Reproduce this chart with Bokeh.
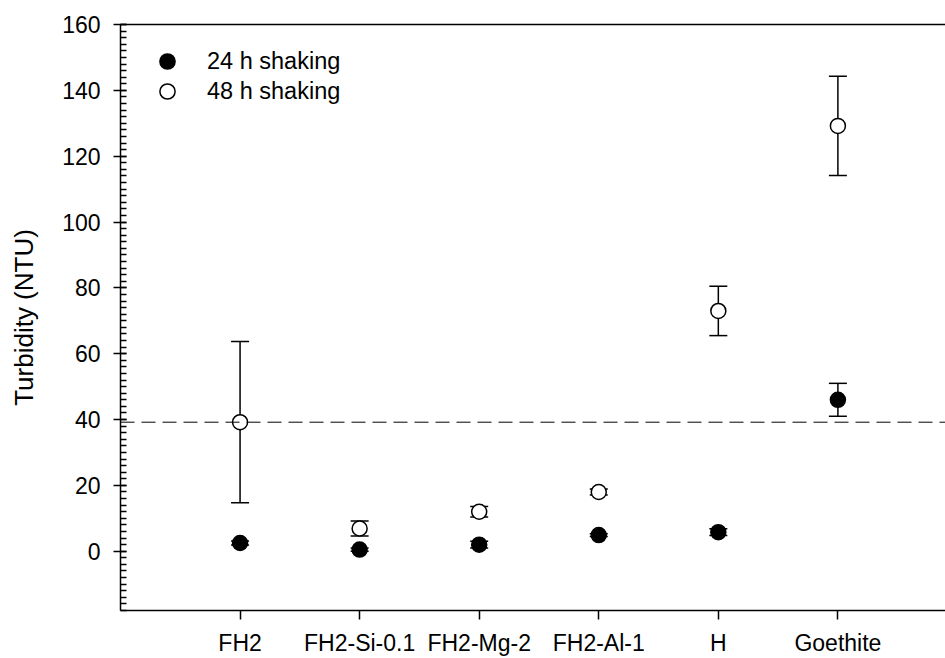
from bokeh.plotting import figure
from bokeh.models import (ColumnDataSource, Whisker, TeeHead, Span, Legend, LegendItem,
                          LinearAxis, SingleIntervalTicker, FixedTicker, Range1d)
from bokeh.embed import file_html
from bokeh.resources import INLINE

# ---- data ----
categories = ["FH2", "FH2-Si-0.1", "FH2-Mg-2", "FH2-Al-1", "H", "Goethite"]
mean_24h = [2.5, 0.5, 2.0, 4.9, 5.8, 46.0]
err_24h = [0.6, 0.5, 1.0, 0.4, 1.0, 5.0]
mean_48h = [39.2, 6.9, 12.0, 18.0, 73.0, 129.2]
err_48h = [24.5, 2.3, 1.6, 0.9, 7.5, 15.1]
reference_level = mean_48h[0]   # dashed horizontal line
y_label = "Turbidity (NTU)"
legend_labels = ["24 h shaking", "48 h shaking"]

FONT = "Liberation Sans"
positions = [i + 1 for i in range(len(categories))]

src24 = ColumnDataSource(dict(
    x=positions, y=mean_24h,
    lower=[m - e for m, e in zip(mean_24h, err_24h)],
    upper=[m + e for m, e in zip(mean_24h, err_24h)]))
src48 = ColumnDataSource(dict(
    x=positions, y=mean_48h,
    lower=[m - e for m, e in zip(mean_48h, err_48h)],
    upper=[m + e for m, e in zip(mean_48h, err_48h)]))

p = figure(width=945, height=658, output_backend="svg", toolbar_location=None,
           x_range=Range1d(0, 6.9), y_range=Range1d(-18, 160),
           min_border_left=120, min_border_right=0, min_border_top=24,
           min_border_bottom=48, x_axis_location="below")
p.outline_line_color = None
p.grid.visible = False
p.background_fill_color = "white"
p.border_fill_color = "white"

# y axis
ya = p.yaxis[0]
ya.ticker = SingleIntervalTicker(interval=20, num_minor_ticks=10)
ya.axis_label = y_label
ya.axis_label_text_font = FONT
ya.axis_label_text_font_style = "normal"
ya.axis_label_text_font_size = "26px"
ya.axis_label_text_color = "black"
ya.axis_label_standoff = 20
ya.major_label_text_font = FONT
ya.major_label_text_font_size = "23px"
ya.major_label_text_color = "black"
ya.major_label_standoff = 13
ya.major_tick_out = 7
ya.major_tick_in = 6
ya.minor_tick_out = 0
ya.minor_tick_in = 6
ya.axis_line_width = 1.5
ya.major_tick_line_width = 1.5
ya.minor_tick_line_width = 1.5
ya.axis_line_color = "black"
ya.major_tick_line_color = "black"
ya.minor_tick_line_color = "black"

# x axis
xa = p.xaxis[0]
xa.ticker = FixedTicker(ticks=positions)
xa.major_label_overrides = {pos: lab for pos, lab in zip(positions, categories)}
xa.major_label_text_font = FONT
xa.major_label_text_font_size = "23px"
xa.major_label_text_color = "black"
xa.major_label_standoff = 10
xa.major_tick_out = 9
xa.major_tick_in = 0
xa.minor_tick_out = 0
xa.minor_tick_in = 0
xa.axis_line_width = 1.5
xa.major_tick_line_width = 1.5
xa.axis_line_color = "black"
xa.major_tick_line_color = "black"

# top frame line
top = LinearAxis(major_tick_out=0, major_tick_in=0, minor_tick_out=0, minor_tick_in=0,
                 major_label_text_font_size="0px", axis_line_width=1.5,
                 axis_line_color="black", ticker=FixedTicker(ticks=[]))
p.add_layout(top, "above")

# dashed reference line
p.add_layout(Span(location=reference_level, dimension="width", line_color="black",
                  line_width=1, line_dash="14 7"))

# error bars
for src in (src48, src24):
    w = Whisker(base="x", upper="upper", lower="lower", source=src, dimension="height",
                line_color="black", line_width=1.5, level="underlay",
                upper_head=TeeHead(size=18, line_width=1.5, line_color="black"),
                lower_head=TeeHead(size=18, line_width=1.5, line_color="black"))
    p.add_layout(w)

r48 = p.scatter("x", "y", source=src48, size=15, fill_color="white",
                line_color="black", line_width=1.5)
r24 = p.scatter("x", "y", source=src24, size=15, fill_color="black",
                line_color="black", line_width=1.5)

# legend: two single-item legends for exact row spacing
for item_r, lab, vy in ((r24, legend_labels[0], 530), (r48, legend_labels[1], 500)):
    lg = Legend(items=[LegendItem(label=lab, renderers=[item_r])],
                location=(28, vy), glyph_width=38, glyph_height=38,
                label_height=38, label_standoff=21, padding=0, margin=0,
                border_line_color=None, background_fill_alpha=0,
                label_text_font=FONT, label_text_font_size="23.5px",
                label_text_color="black")
    p.add_layout(lg, "center")

open("out.html", "w").write(file_html(p, INLINE))
